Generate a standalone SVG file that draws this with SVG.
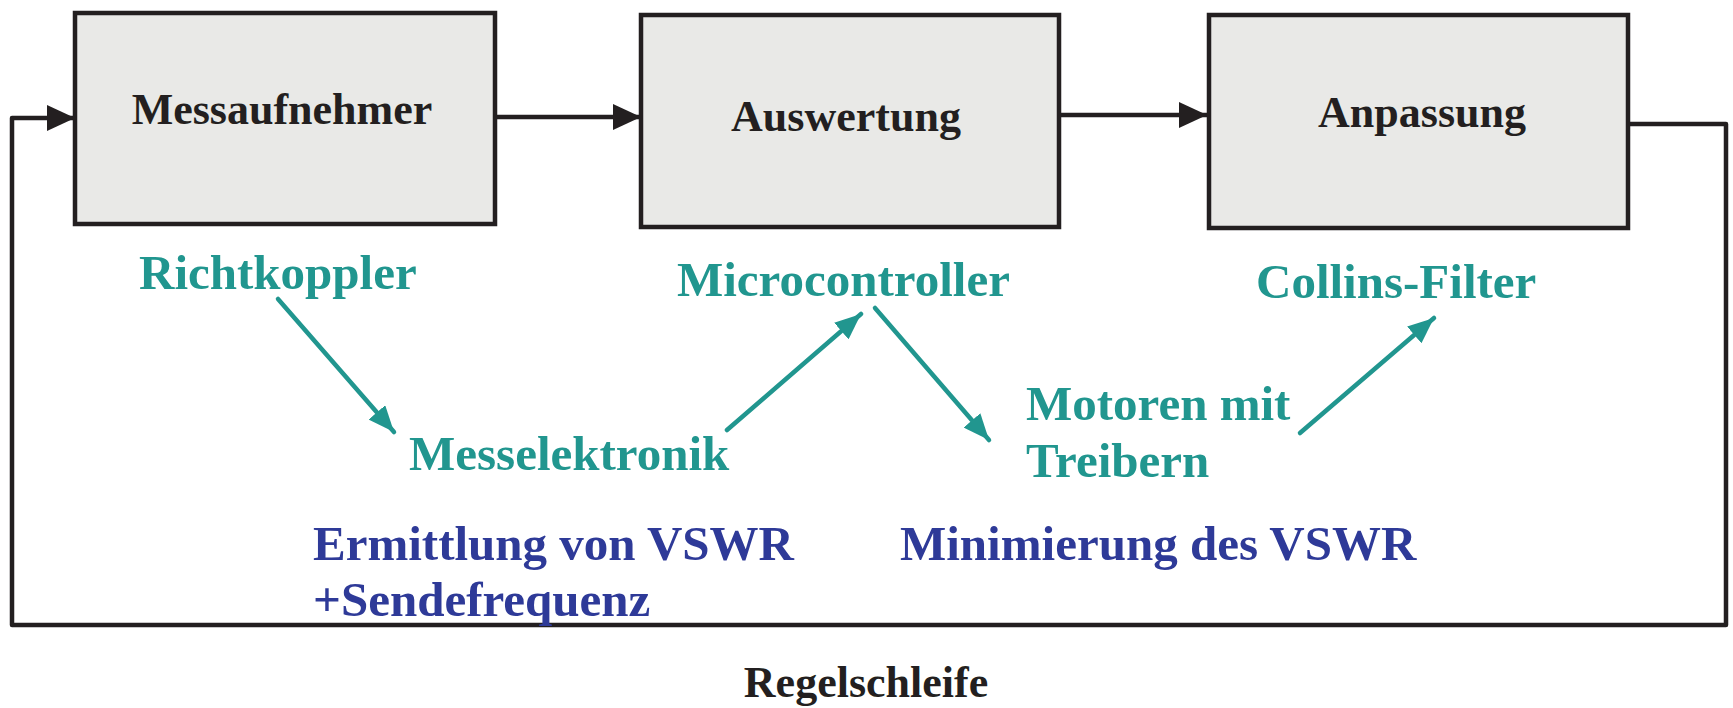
<svg xmlns="http://www.w3.org/2000/svg" width="1733" height="708" viewBox="0 0 1733 708">
  <style>
    .box { fill: #e9e9e7; stroke: #231f20; stroke-width: 4.5; }
    .title { font-family: "Liberation Serif", "Times New Roman", serif; font-weight: bold; font-size: 44px; fill: #231f20; text-anchor: middle; }
    .comp { font-family: "Liberation Serif", "Times New Roman", serif; font-weight: bold; font-size: 49px; fill: #21968f; }
    .task { font-family: "Liberation Serif", "Times New Roman", serif; font-weight: bold; font-size: 49px; fill: #2e3a98; }
    .flow { fill: none; stroke: #231f20; stroke-width: 4.5; stroke-linejoin: round; }
    .link { fill: none; stroke: #21968f; stroke-width: 4.5; stroke-linecap: round; }
  </style>
  <defs>
    <marker id="arrowBlack" markerUnits="userSpaceOnUse" markerWidth="30" markerHeight="26" refX="28" refY="13" orient="auto">
      <path d="M0,0 L28,13 L0,26 Z" fill="#231f20"/>
    </marker>
    <marker id="arrowTeal" markerUnits="userSpaceOnUse" markerWidth="28" markerHeight="22" refX="26" refY="11" orient="auto">
      <path d="M0,0 L26,11 L0,22 Z" fill="#21968f"/>
    </marker>
  </defs>

  <!-- control loop connectors -->
  <g id="connectors">
    <path class="flow" d="M1628,124 L1726,124 L1726,625 L12,625 L12,118 L75,118" marker-end="url(#arrowBlack)"/>
    <path class="flow" d="M495,117 L641,117" marker-end="url(#arrowBlack)"/>
    <path class="flow" d="M1059,115 L1207,115" marker-end="url(#arrowBlack)"/>
    <path class="link" d="M278,299 L394,432" marker-end="url(#arrowTeal)"/>
    <path class="link" d="M727,430 L861,314" marker-end="url(#arrowTeal)"/>
    <path class="link" d="M875,308 L989,440" marker-end="url(#arrowTeal)"/>
    <path class="link" d="M1300,433 L1434,318" marker-end="url(#arrowTeal)"/>
  </g>

  <g id="messaufnehmer">
    <rect class="box" x="75" y="13" width="420" height="211"/>
    <text class="title" x="282" y="124">Messaufnehmer</text>
  </g>
  <g id="auswertung">
    <rect class="box" x="641" y="15" width="418" height="212"/>
    <text class="title" x="846" y="131">Auswertung</text>
  </g>
  <g id="anpassung">
    <rect class="box" x="1209" y="15" width="419" height="213"/>
    <text class="title" x="1422" y="127">Anpassung</text>
  </g>

  <g id="richtkoppler"><text class="comp" x="139" y="289">Richtkoppler</text></g>
  <g id="microcontroller"><text class="comp" x="677" y="296">Microcontroller</text></g>
  <g id="collins-filter"><text class="comp" x="1256" y="298">Collins-Filter</text></g>
  <g id="messelektronik"><text class="comp" x="409" y="470">Messelektronik</text></g>
  <g id="motoren">
    <text class="comp" x="1026" y="420">Motoren mit</text>
    <text class="comp" x="1026" y="477">Treibern</text>
  </g>

  <g id="ermittlung">
    <text class="task" x="313" y="560">Ermittlung von VSWR</text>
    <text class="task" x="313" y="616">+Sendefrequenz</text>
  </g>
  <g id="minimierung"><text class="task" x="900" y="560">Minimierung des VSWR</text></g>

  <g id="regelschleife"><text class="title" x="866" y="697">Regelschleife</text></g>
</svg>
